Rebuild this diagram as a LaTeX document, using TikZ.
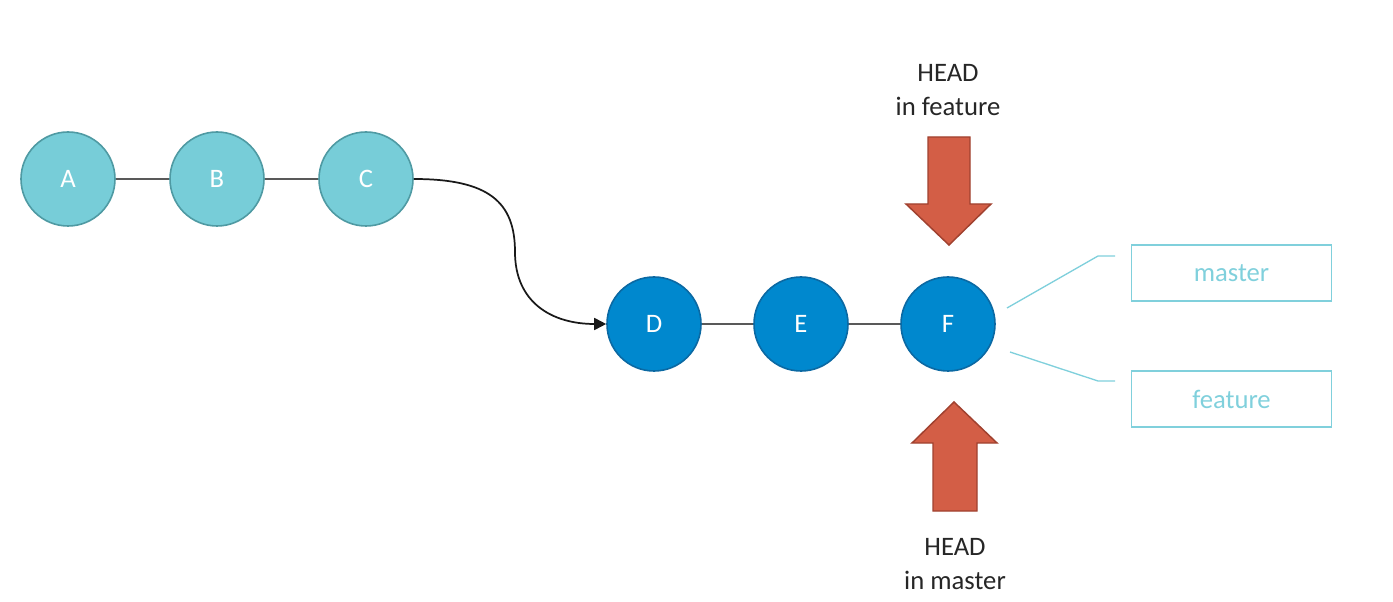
\documentclass[tikz,border=0pt]{standalone}
\usepackage{fontspec}
\setmainfont{Carlito}
\usepackage{xcolor}
\usetikzlibrary{arrows.meta}
\definecolor{commitold}{HTML}{77CDD8}
\definecolor{commitoldline}{HTML}{4F9AA3}
\definecolor{commitnew}{HTML}{0088CE}
\definecolor{commitnewline}{HTML}{0B69A3}
\definecolor{headred}{HTML}{D35E46}
\definecolor{headredline}{HTML}{A0412F}
\definecolor{branchteal}{HTML}{80D0DC}

\tikzset{
  commit/.style={circle, minimum size=70.5pt, inner sep=0pt, line width=1.2pt, text=white, font=\fontsize{20}{24}\selectfont},
  oldcommit/.style={commit, fill=commitold, draw=commitoldline},
  newcommit/.style={commit, fill=commitnew, draw=commitnewline},
  history/.style={draw=black!65, line width=0.9pt},
  headarrow/.style={fill=headred, draw=headredline, line width=1.1pt},
  headlabel/.style={align=center, text=black!85, font=\fontsize{20}{25}\selectfont},
  branchbox/.style={draw=branchteal, line width=1.2pt, minimum width=150pt, minimum height=42pt, text=branchteal, font=\fontsize{20}{24}\selectfont},
  branchline/.style={draw=branchteal, line width=1pt}
}

\begin{document}
\begin{tikzpicture}[x=0.75pt, y=-0.75pt]
  \useasboundingbox (0,0) rectangle (1393,602);
  % commits before the branch
  \node[oldcommit] (A) at (68,179) {A};
  \node[oldcommit] (B) at (217,179) {B};
  \node[oldcommit] (C) at (366,179) {C};
  % commits on feature
  \node[newcommit] (D) at (654,324) {D};
  \node[newcommit] (E) at (801,324) {E};
  \node[newcommit] (F) at (948,324) {F};
  \draw[history] (A) -- (B) (B) -- (C);
  \draw[history] (D) -- (E) (E) -- (F);
  \coordinate (bend) at (515,252);
  \draw[line width=1.3pt, black!90, -{Triangle[length=9pt, width=9pt]}]
    (C.east) .. controls +(75,0) and +(0,-50) .. (bend)
    .. controls +(0,50) and +(-55,0) .. (D.west);
  % HEAD arrows
  \node[headlabel] (headfeature) at (948,90) {HEAD\\in feature};
  \draw[headarrow] (928,137) -- (970,137) -- (970,204) -- (991,204) -- (949,245)
    -- (906,204) -- (928,204) -- cycle;
  \draw[headarrow] (933,511) -- (977,511) -- (977,443) -- (997,443) -- (954,402)
    -- (912,443) -- (933,443) -- cycle;
  \node[headlabel] (headmaster) at (955,564) {HEAD\\in master};
  % branch pointers
  \node[branchbox] (master) at (1231.5,273) {master};
  \node[branchbox] (feature) at (1231.5,399) {feature};
  \coordinate (mastertip) at (1007,308);
  \coordinate (masterknee) at (1098,256);
  \coordinate (featuretip) at (1010,352);
  \coordinate (featureknee) at (1098,381);
  \draw[branchline] (mastertip) -- (masterknee) -- +(17,0);
  \draw[branchline] (featuretip) -- (featureknee) -- +(17,0);
\end{tikzpicture}
\end{document}
